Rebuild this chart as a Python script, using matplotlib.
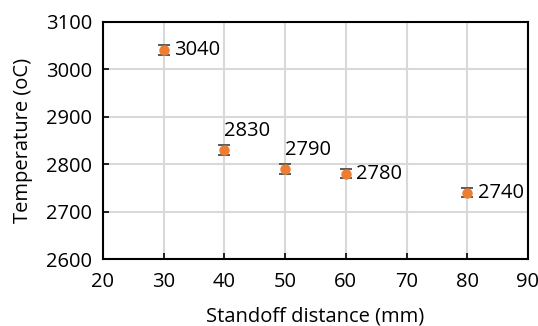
import matplotlib
matplotlib.use("Agg")
import matplotlib.pyplot as plt

# standoff distance vs temperature
distance = [30, 40, 50, 60, 80]
temperature = [3040, 2830, 2790, 2780, 2740]
errors = [10, 10, 10, 10, 10]
labels = ['3040', '2830', '2790', '2780', '2740']
label_pos = ['right', 'above', 'above', 'right', 'right']

plt.rcParams['font.family'] = ['Open Sans', 'DejaVu Sans']
plt.rcParams['font.size'] = 14.5

fig = plt.figure(figsize=(5.38, 3.26), dpi=100)
ax = fig.add_axes([0.1914, 0.2055, 0.79, 0.728])

ax.errorbar(distance, temperature, yerr=errors, fmt='o', color='#ED7D31',
            ecolor='#404040', elinewidth=1.2, capsize=4, capthick=1.2,
            markersize=6.5, zorder=3)

for x, y, t, p in zip(distance, temperature, labels, label_pos):
    if p == 'right':
        ax.annotate(t, (x, y), xytext=(7.5, 0), textcoords='offset points',
                    ha='left', va='center')
    else:
        ax.annotate(t, (x, y), xytext=(0, 10), textcoords='offset points',
                    ha='left', va='baseline')

ax.set_xlim(20, 90)
ax.set_ylim(2600, 3100)
ax.set_xticks(range(20, 91, 10))
ax.set_yticks(range(2600, 3101, 100))
ax.grid(True, color='#d9d9d9', linewidth=1.5)
ax.set_axisbelow(True)
for s in ax.spines.values():
    s.set_color('black')
    s.set_linewidth(1.5)
ax.tick_params(direction='in', length=4.5, width=1.2, color='black', pad=8)
ax.tick_params(axis='x', pad=9)
ax.set_xlabel('Standoff distance (mm)', labelpad=11)
ax.set_ylabel('Temperature (oC)', labelpad=9)

fig.savefig('out.png', dpi=100)
